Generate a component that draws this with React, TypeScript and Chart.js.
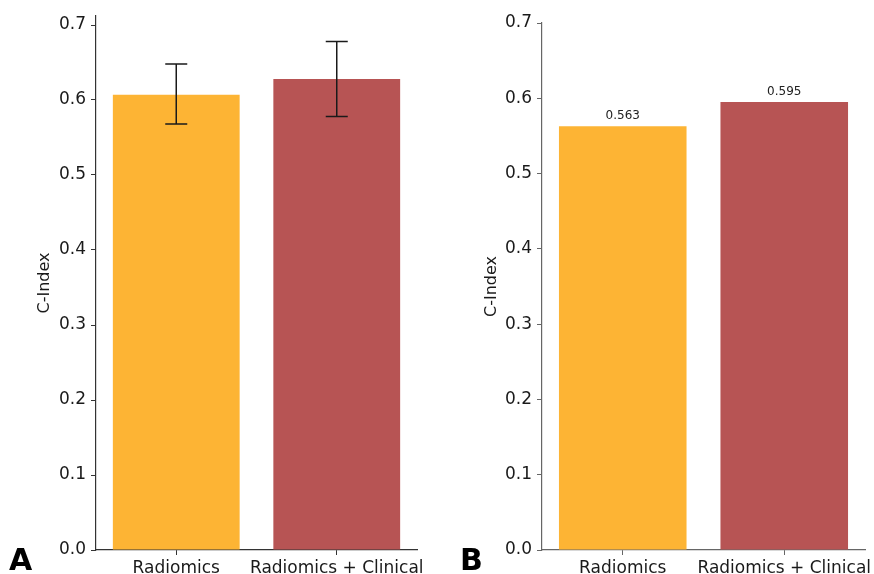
import React, { useEffect, useRef } from "react";
import { Chart, registerables } from "chart.js";

Chart.register(...registerables);

const categories = ["Radiomics", "Radiomics + Clinical"];
const barColors = ["#FDB434", "#B75454"];

// Panel A: mean C-Index with error bars
const meanA = [0.607, 0.628];
const lowA = [0.568, 0.578];
const highA = [0.648, 0.678];

// Panel B: C-Index with value labels
const valuesB = [0.563, 0.595];
const labelsB = ["0.563", "0.595"];

const FONT = "'DejaVu Sans', sans-serif";

type PanelOpts = {
  values: number[];
  yMax: number;
  axisWidth: number;
  padTop: number;
  padRight: number;
  titlePad: number;
  spineColor: string;
  errLow?: number[];
  errHigh?: number[];
  valueLabels?: string[];
};

function makeChart(canvas: HTMLCanvasElement, o: PanelOpts) {
  const overlay = {
    id: "overlay",
    afterDatasetsDraw(chart: any) {
      const ctx = chart.ctx;
      const x = chart.scales.x;
      const y = chart.scales.y;
      ctx.save();
      if (o.errLow && o.errHigh) {
        ctx.strokeStyle = "#1a1a1a";
        ctx.lineWidth = 1.5;
        for (let i = 0; i < o.values.length; i++) {
          const cx = x.getPixelForValue(i);
          const yl = y.getPixelForValue(o.errLow[i]);
          const yh = y.getPixelForValue(o.errHigh[i]);
          ctx.beginPath();
          ctx.moveTo(cx, yl);
          ctx.lineTo(cx, yh);
          ctx.moveTo(cx - 11, yl);
          ctx.lineTo(cx + 11, yl);
          ctx.moveTo(cx - 11, yh);
          ctx.lineTo(cx + 11, yh);
          ctx.stroke();
        }
      }
      if (o.valueLabels) {
        ctx.fillStyle = "#222";
        ctx.font = `12px ${FONT}`;
        ctx.textAlign = "center";
        ctx.textBaseline = "alphabetic";
        for (let i = 0; i < o.values.length; i++) {
          const cx = x.getPixelForValue(i);
          const top = y.getPixelForValue(o.values[i]);
          ctx.fillText(o.valueLabels[i], cx, top - 7);
        }
      }
      ctx.restore();
    },
  };

  return new Chart(canvas, {
    type: "bar",
    data: {
      labels: categories,
      datasets: [
        {
          data: o.values,
          backgroundColor: barColors,
          borderWidth: 0,
          barPercentage: 0.79,
          categoryPercentage: 1,
        },
      ],
    },
    options: {
      responsive: false,
      animation: false,
      devicePixelRatio: 1,
      layout: { padding: { top: o.padTop, right: o.padRight, left: 0, bottom: 0 } },
      plugins: {
        legend: { display: false },
        tooltip: { enabled: false },
      },
      scales: {
        x: {
          offset: true,
          afterFit: (s: any) => {
            s.height = 24;
            s.paddingLeft = 0;
            s.paddingRight = 0;
          },
          grid: {
            display: true,
            drawOnChartArea: false,
            drawTicks: true,
            tickLength: 5,
            tickWidth: 1,
            color: o.spineColor,
            offset: false,
          },
          border: { display: true, color: o.spineColor, width: 1.2 },
          ticks: {
            color: "#1a1a1a",
            padding: 3,
            autoSkip: false,
            font: { family: FONT, size: 17 },
            maxRotation: 0,
            minRotation: 0,
          },
        },
        y: {
          min: 0,
          max: o.yMax,
          afterFit: (s: any) => {
            s.width = o.axisWidth;
          },
          grid: {
            display: true,
            drawOnChartArea: false,
            drawTicks: true,
            tickLength: 5,
            color: o.spineColor,
          },
          border: { display: true, color: o.spineColor, width: 1.2 },
          ticks: {
            stepSize: 0.1,
            includeBounds: false,
            color: "#1a1a1a",
            padding: 5,
            font: { family: FONT, size: 17 },
            callback: (v: any) => Number(v).toFixed(1),
          },
          title: {
            display: true,
            text: "C-Index",
            color: "#1a1a1a",
            font: { family: FONT, size: 16 },
            padding: { top: o.titlePad, bottom: 0 },
          },
        },
      },
    },
    plugins: [overlay],
  } as any);
}

export default function App() {
  const refA = useRef<HTMLCanvasElement>(null);
  const refB = useRef<HTMLCanvasElement>(null);

  useEffect(() => {
    const a = makeChart(refA.current!, {
      values: meanA,
      yMax: 0.712,
      axisWidth: 96,
      padTop: 16,
      padRight: 20,
      titlePad: 35,
      spineColor: "#333",
      errLow: lowA,
      errHigh: highA,
    });
    const b = makeChart(refB.current!, {
      values: valuesB,
      yMax: 0.7,
      axisWidth: 105,
      padTop: 23,
      padRight: 9,
      titlePad: 45,
      spineColor: "#666",
      valueLabels: labelsB,
    });
    return () => {
      a.destroy();
      b.destroy();
    };
  }, []);

  const letter: React.CSSProperties = {
    position: "absolute",
    top: 543,
    fontFamily: "'DejaVu Sans', sans-serif",
    fontWeight: "bold",
    fontSize: 30,
    lineHeight: "34px",
    color: "#000",
  };

  return (
    <div
      style={{
        position: "fixed",
        left: 0,
        top: 0,
        width: 874,
        height: 574,
        background: "#fff",
        overflow: "hidden",
      }}
    >
      <canvas
        ref={refA}
        width={437}
        height={574}
        style={{ position: "absolute", left: 0, top: 0, width: 437, height: 574 }}
      />
      <canvas
        ref={refB}
        width={437}
        height={574}
        style={{ position: "absolute", left: 437, top: 0, width: 437, height: 574 }}
      />
      <div style={{ ...letter, left: 9 }}>A</div>
      <div style={{ ...letter, left: 460 }}>B</div>
    </div>
  );
}
